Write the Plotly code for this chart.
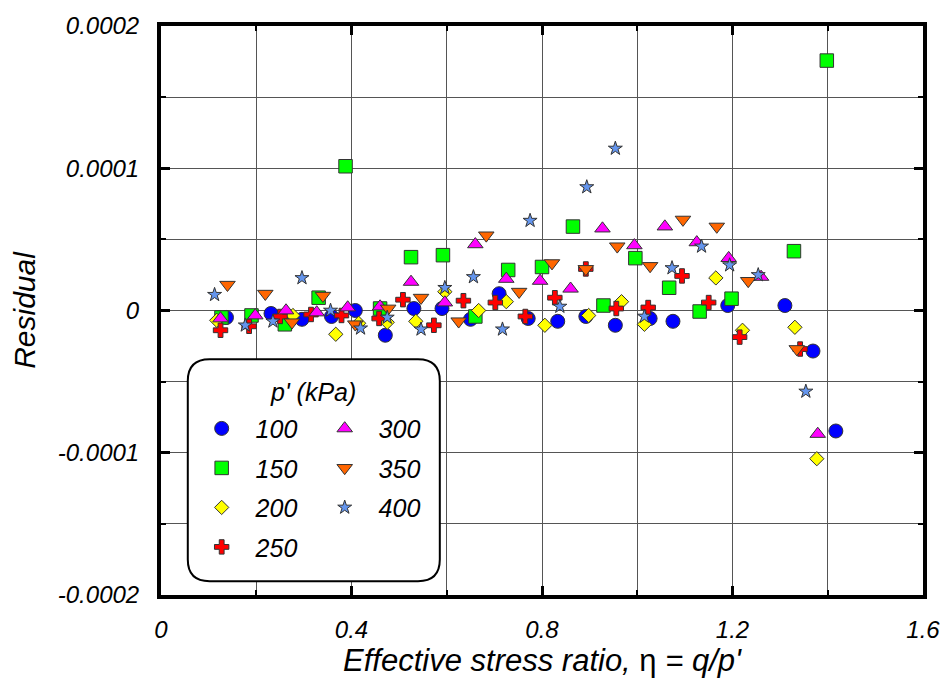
import plotly.graph_objects as go

# ---------------- data ----------------
series_names = ["100", "150", "200", "250", "300", "350", "400"]

eta_100 = [0.1375, 0.231, 0.296, 0.358, 0.408, 0.471, 0.531, 0.590, 0.650, 0.710,
           0.771, 0.833, 0.892, 0.954, 1.027, 1.075, 1.190, 1.310, 1.369, 1.417]
res_100 = [-4.9e-6, -2.1e-6, -6.2e-6, -4.2e-6, 0.0, -1.74e-5, 1.4e-6, 1.4e-6, -6.2e-6, 1.18e-5,
           -5.6e-6, -7.6e-6, -4.2e-6, -1.04e-5, -5.6e-6, -7.6e-6, 3.5e-6, 3.5e-6, -2.85e-5, -8.47e-5]

eta_150 = [0.127, 0.190, 0.260, 0.331, 0.3875, 0.460, 0.525, 0.592, 0.660, 0.729,
           0.800, 0.865, 0.929, 0.996, 1.067, 1.131, 1.198, 1.329, 1.398]
res_150 = [-4.9e-6, -3.5e-6, -9.7e-6, 9.0e-6, 1.014e-4, 1.4e-6, 3.75e-5, 3.89e-5, -4.2e-6, 2.85e-5,
           3.06e-5, 5.9e-5, 3.5e-6, 3.68e-5, 1.6e-5, -0.7e-6, 8.3e-6, 4.17e-5, 1.757e-4]

eta_200 = [0.117, 0.277, 0.367, 0.415, 0.475, 0.535, 0.596, 0.667, 0.725, 0.806,
           0.898, 0.967, 1.015, 1.165, 1.221, 1.331, 1.377]
res_200 = [-6.9e-6, -3.5e-6, -1.67e-5, -9.0e-6, -8.3e-6, -7.6e-6, 1.32e-5, 0.0, 6.2e-6, -1.04e-5,
           -3.5e-6, 6.2e-6, -9.7e-6, 2.29e-5, -1.39e-5, -1.18e-5, -1.042e-4]

eta_250 = [0.125, 0.185, 0.250, 0.315, 0.379, 0.458, 0.508, 0.573, 0.635, 0.702,
           0.765, 0.827, 0.892, 0.956, 1.023, 1.094, 1.150, 1.215, 1.342]
res_250 = [-1.39e-5, -1.11e-5, -4.2e-6, -2.8e-6, -3.5e-6, -5.6e-6, 7.6e-6, -1.04e-5, 6.9e-6, 5.6e-6,
           -4.2e-6, 9.0e-6, 2.92e-5, 1.4e-6, 2.1e-6, 2.43e-5, 5.6e-6, -1.87e-5, -2.71e-5]

eta_300 = [0.125, 0.198, 0.2625, 0.327, 0.392, 0.460, 0.525, 0.596, 0.660, 0.725,
           0.796, 0.860, 0.927, 0.994, 1.058, 1.125, 1.192, 1.260, 1.379]
res_300 = [-5.6e-6, -3.5e-6, 0.0, -1.4e-6, 2.1e-6, 2.8e-6, 2.01e-5, 5.6e-6, 4.65e-5, 2.22e-5,
           2.08e-5, 1.53e-5, 5.76e-5, 4.58e-5, 5.9e-5, 4.79e-5, 3.68e-5, 2.36e-5, -8.68e-5]

eta_350 = [0.1396, 0.219, 0.275, 0.340, 0.408, 0.477, 0.546, 0.625, 0.683, 0.752,
           0.821, 0.892, 0.958, 1.027, 1.096, 1.167, 1.233, 1.335]
res_350 = [1.81e-5, 1.18e-5, -8.3e-6, 1.04e-5, -9.7e-6, 1.4e-6, 9.0e-6, -7.6e-6, 5.28e-5, 1.32e-5,
           3.33e-5, 2.92e-5, 4.51e-5, 3.13e-5, 6.39e-5, 5.9e-5, 2.08e-5, -2.71e-5]

eta_400 = [0.1125, 0.177, 0.235, 0.296, 0.356, 0.419, 0.475, 0.546, 0.596, 0.656,
           0.717, 0.775, 0.8375, 0.894, 0.954, 1.015, 1.073, 1.135, 1.194, 1.254, 1.354]
res_400 = [1.11e-5, -1.04e-5, -7.6e-6, 2.29e-5, 0.0, -1.25e-5, -4.9e-6, -1.32e-5, 1.6e-5, 2.36e-5,
           -1.32e-5, 6.32e-5, 2.8e-6, 8.68e-5, 1.139e-4, -4.2e-6, 2.99e-5, 4.51e-5, 3.19e-5, 2.5e-5, -5.69e-5]

x_tick_vals = [0, 0.4, 0.8, 1.2, 1.6]
x_tick_text = ["0", "0.4", "0.8", "1.2", "1.6"]
y_tick_vals = [0.0002, 0.0001, 0, -0.0001, -0.0002]
y_tick_text = ["0.0002", "0.0001", "0", "-0.0001", "-0.0002"]

# ---------------- styling ----------------
W, H = 952, 686
ML, MR, MT, MB = 161, 23, 18, 91
PW, PH = W - ML - MR, H - MT - MB


def pxx(px):
    return (px - ML) / PW


def pxy(py):
    return (H - MB - py) / PH


FONT = "Liberation Sans, Arial, sans-serif"

styles = [
    dict(symbol="circle", color="#0000ff", size=14),
    dict(symbol="square", color="#00ff00", size=13.5),
    dict(symbol="diamond", color="#ffff00", size=11),
    dict(symbol="cross", color="#ff0000", size=12),
    dict(symbol="triangle-up", color="#ff00ff", size=13.5),
    dict(symbol="triangle-down", color="#ff6600", size=13.5),
    dict(symbol="star", color="#6495ed", size=10.5),
]
xs = [eta_100, eta_150, eta_200, eta_250, eta_300, eta_350, eta_400]
ys = [res_100, res_150, res_200, res_250, res_300, res_350, res_400]
legend_of = ["legend", "legend", "legend", "legend", "legend2", "legend2", "legend2"]

fig = go.Figure()
for name, x, y, st, lg in zip(series_names, xs, ys, styles, legend_of):
    fig.add_trace(go.Scatter(
        x=x, y=y, mode="markers", name="\u00a0\u00a0" + name,
        legend=lg, legendgroup=name,
        marker=dict(symbol=st["symbol"], color=st["color"], size=st["size"],
                    line=dict(color="#333333", width=1)),
    ))

# rounded legend box
bx0, bx1, by0, by1, r = 188, 442, 356, 581, 22
path = (
    f"M {pxx(bx0 + r)},{pxy(by0)} L {pxx(bx1 - r)},{pxy(by0)} "
    f"Q {pxx(bx1)},{pxy(by0)} {pxx(bx1)},{pxy(by0 + r)} "
    f"L {pxx(bx1)},{pxy(by1 - r)} Q {pxx(bx1)},{pxy(by1)} {pxx(bx1 - r)},{pxy(by1)} "
    f"L {pxx(bx0 + r)},{pxy(by1)} Q {pxx(bx0)},{pxy(by1)} {pxx(bx0)},{pxy(by1 - r)} "
    f"L {pxx(bx0)},{pxy(by0 + r)} Q {pxx(bx0)},{pxy(by0)} {pxx(bx0 + r)},{pxy(by0)} Z"
)
fig.add_shape(type="path", path=path, xref="paper", yref="paper",
              fillcolor="white", line=dict(color="black", width=2), layer="above")

fig.add_annotation(text="<i>p' (kPa)</i>", xref="paper", yref="paper",
                   x=pxx(314), y=pxy(389), xanchor="center", yanchor="middle",
                   showarrow=False, font=dict(family=FONT, size=25, color="black"))

legend_common = dict(
    bgcolor="rgba(0,0,0,0)", borderwidth=0, orientation="v",
    font=dict(family=FONT, size=25, color="black", style="italic"),
    tracegroupgap=4, traceorder="grouped", xanchor="left", yanchor="top",
    itemclick=False, itemdoubleclick=False,
)

axis_common = dict(
    showline=True, linewidth=4, linecolor="black", mirror="allticks",
    ticks="inside", ticklen=9, tickwidth=3, tickcolor="black",
    showgrid=True, gridcolor="#555555", gridwidth=1, zeroline=False,
    tickfont=dict(family=FONT, size=24, color="black", style="italic"),
    tickmode="array",
)

fig.update_layout(
    width=W, height=H, margin=dict(l=ML, r=MR, t=MT, b=MB),
    paper_bgcolor="white", plot_bgcolor="white",
    showlegend=True,
    legend=dict(x=pxx(202), y=pxy(403), **legend_common),
    legend2=dict(x=pxx(326), y=pxy(403), **legend_common),
    xaxis=dict(
        range=[0, 1.6], tickvals=x_tick_vals, ticktext=x_tick_text,
        minor=dict(tickmode="linear", tick0=0, dtick=0.2, ticks="inside", ticklen=5,
                   tickwidth=2, tickcolor="black", showgrid=True,
                   gridcolor="#555555", gridwidth=1),
        ticklabelstandoff=10,
        title=dict(text="<i>Effective stress ratio, </i>\u03b7<i> = q/p'</i>",
                   font=dict(family=FONT, size=31, color="black"), standoff=2),
        **axis_common,
    ),
    yaxis=dict(
        range=[-0.0002, 0.0002], tickvals=y_tick_vals, ticktext=y_tick_text,
        minor=dict(tickmode="linear", tick0=0, dtick=0.00005, ticks="inside", ticklen=5,
                   tickwidth=2, tickcolor="black", showgrid=True,
                   gridcolor="#555555", gridwidth=1),
        ticklabelstandoff=13,
        title=dict(text="<i>Residual</i>",
                   font=dict(family=FONT, size=30, color="black"), standoff=14),
        **axis_common,
    ),
)

fig.write_html("out.html")
